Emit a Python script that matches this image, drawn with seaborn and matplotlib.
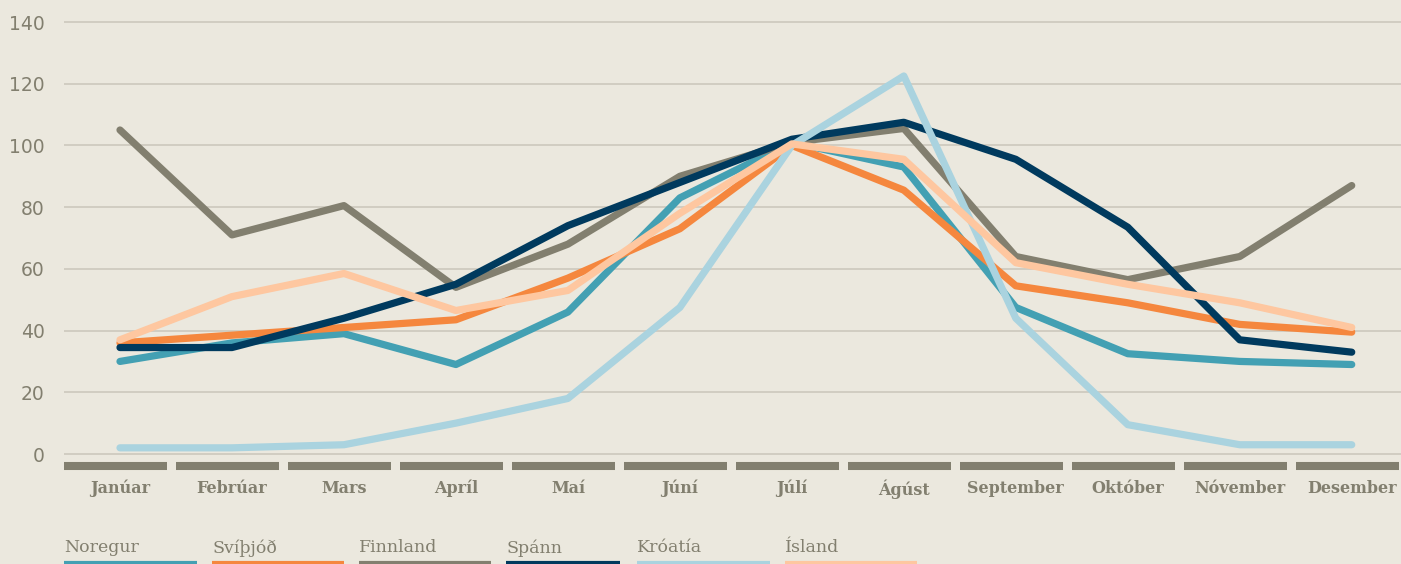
import pandas as pd
import seaborn as sns
import matplotlib.pyplot as plt
from matplotlib.lines import Line2D

# GOGN
manudir = ["Janúar", "Febrúar", "Mars", "Apríl", "Maí", "Júní",
           "Júlí", "Ágúst", "September", "Október", "Nóvember", "Desember"]
lond = ["Noregur", "Svíþjóð", "Finnland", "Spánn", "Króatía", "Ísland"]

noregur = [30, 36, 39, 29, 46, 83, 101, 93, 47.5, 32.5, 30, 29]
svithjod = [36, 38.5, 41, 43.5, 57, 73, 100, 85.5, 54.5, 49, 42, 39.5]
finnland = [105, 71, 80.5, 54, 68, 90, 101, 105.5, 64, 56.5, 64, 87]
spann = [34.5, 34.5, 44, 55, 74, 88, 102, 107.5, 95.5, 73.5, 37, 33]
kroatia = [2, 2, 3, 10, 18, 47.5, 100, 122.5, 44, 9.5, 3, 3]
island = [37, 51, 58.5, 46.5, 53, 78, 100.5, 95.5, 62, 55, 49, 41]

litir = ["#43a0b3", "#f5873e", "#827f6f", "#003a5e", "#aad3df", "#fec7a0"]

df = pd.DataFrame({"Noregur": noregur, "Svíþjóð": svithjod, "Finnland": finnland,
                   "Spánn": spann, "Króatía": kroatia, "Ísland": island})
df["manudur"] = manudir
langt = df.melt(id_vars="manudur", var_name="land", value_name="gildi")

bakgrunnur = "#ebe8de"
grar = "#827f6f"

sns.set_style("white")
plt.rcParams["font.family"] = ["DejaVu Serif", "DejaVu Sans"]

W, H = 1401, 564
fig = plt.figure(figsize=(W / 100, H / 100), dpi=100, facecolor=bakgrunnur)
# axes: 0-linan a y=454px, 140 a y=22px
ppu = (454 - 22) / 140
ax_botn = 470
ax = fig.add_axes([64 / W, (H - ax_botn) / H, 1 - 64 / W, ax_botn / H])
ax.set_facecolor(bakgrunnur)

sns.lineplot(data=langt, x="manudur", y="gildi", hue="land", hue_order=lond,
             palette=litir, linewidth=5.2, legend=False, sort=False, ax=ax)
for ln in ax.lines:
    ln.set_solid_capstyle("round")
    ln.set_solid_joinstyle("round")

ax.set_xlim(-0.5, 11.44)
ax.set_ylim(-(ax_botn - 454) / ppu, 140 + 22 / ppu)
ax.set_yticks(range(0, 141, 20))
ax.grid(axis="y", color="#cfcbbf", linewidth=1.3)
ax.set_axisbelow(True)
for s in ax.spines.values():
    s.set_visible(False)

ax.set_xlabel("")
ax.set_ylabel("")
ax.tick_params(axis="y", length=0, pad=14, labelsize=13.5, labelcolor=grar)
ax.tick_params(axis="x", length=0, pad=7, labelcolor=grar)
for lbl in ax.get_yticklabels():
    lbl.set_fontfamily(["DejaVu Sans"])
for lbl in ax.get_xticklabels():
    lbl.set_fontsize(11.5)
    lbl.set_fontweight("bold")

# strik undir x-as
trans = ax.get_xaxis_transform()
y_strik = (ax_botn - 466) / ax_botn
for i in range(len(manudir)):
    ax.plot([i - 0.5, i + 0.42], [y_strik, y_strik], transform=trans,
            color=grar, linewidth=5.8, solid_capstyle="butt", clip_on=False)

# skyringar
leg_x = [64, 212, 359, 506, 637, 785]
leg_w = [133, 132, 132, 114, 133, 132]
for nafn, lit, x0, w in zip(lond, litir, leg_x, leg_w):
    fig.text(x0 / W, (H - 548) / H, nafn, fontsize=12.5, color=grar,
             va="center", ha="left")
    fig.add_artist(Line2D([x0 / W, (x0 + w) / W], [(H - 563) / H, (H - 563) / H],
                          color=lit, linewidth=3, solid_capstyle="butt"))

fig.savefig("out.png", dpi=100, facecolor=bakgrunnur)
